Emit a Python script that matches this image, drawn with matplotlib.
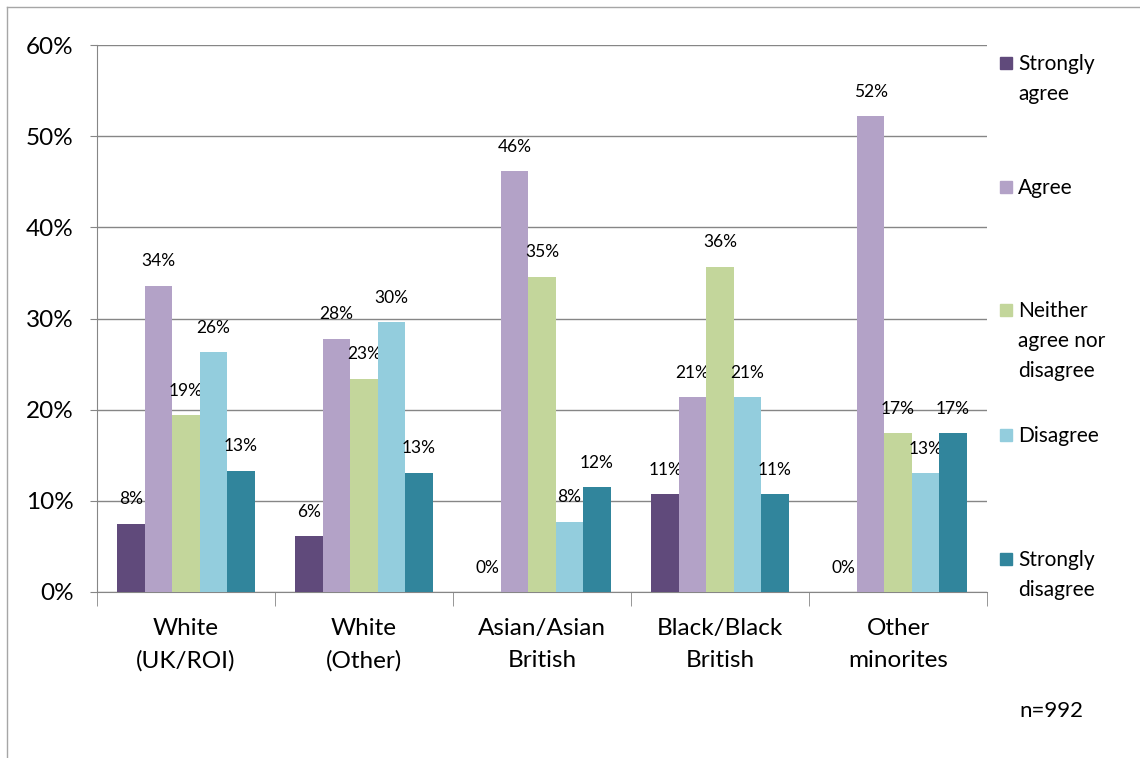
import matplotlib
matplotlib.use("Agg")
import matplotlib.pyplot as plt
import numpy as np
from matplotlib.patches import Rectangle
from matplotlib.lines import Line2D

categories = ["White\n(UK/ROI)", "White\n(Other)", "Asian/Asian\nBritish", "Black/Black\nBritish", "Other\nminorites"]
series_names = ["Strongly\nagree", "Agree", "Neither\nagree nor\ndisagree", "Disagree", "Strongly\ndisagree"]
strongly_agree = [7.5, 6.1, 0.0, 10.7, 0.0]
agree = [33.6, 27.8, 46.2, 21.4, 52.2]
neither = [19.4, 23.4, 34.6, 35.7, 17.4]
disagree = [26.3, 29.6, 7.7, 21.4, 13.0]
strongly_disagree = [13.3, 13.1, 11.5, 10.7, 17.4]
colors = ["#604A7B", "#B3A2C7", "#C3D69B", "#93CDDD", "#31859C"]
yticks = [0, 10, 20, 30, 40, 50, 60]
note = "n=992"

plt.rcParams['font.family'] = ['Lato', 'DejaVu Sans']

fig = plt.figure(figsize=(11.4, 7.58), dpi=100)
ax = fig.add_axes([97/1140, 1-592/758, (987-97)/1140, (592-45)/758])

series = [strongly_agree, agree, neither, disagree, strongly_disagree]
x = np.arange(len(categories))
bw = 0.154
for i, (vals, c) in enumerate(zip(series, colors)):
    pos = x + (i - 2) * bw
    ax.bar(pos, vals, width=bw, color=c, zorder=3)
    for p, v in zip(pos, vals):
        ax.annotate(f"{v:.0f}%", (p, v), xytext=(0, 17.5), textcoords="offset points",
                    ha="center", va="center", fontsize=12.5, color="#000000")

ax.set_xlim(-0.5, len(categories) - 0.5)
ax.set_ylim(0, 60)
ax.set_yticks(yticks)
ax.set_yticklabels([f"{t}%" for t in yticks], fontsize=17.5)
ax.yaxis.grid(True, color="#868686", linewidth=1, zorder=0)
ax.set_axisbelow(True)
for s in ["top", "right"]:
    ax.spines[s].set_visible(False)
ax.spines["left"].set_color("#868686")
ax.spines["bottom"].set_color("#868686")
ax.tick_params(axis="y", length=5, color="#868686", pad=12)
ax.set_xticks(x)
ax.set_xticklabels(categories, fontsize=17.5, linespacing=1.62)
ax.tick_params(axis="x", length=0, pad=19)
ax.set_xticks(np.arange(-0.5, len(categories) + 0.5, 1), minor=True)
ax.tick_params(axis="x", which="minor", length=10, color="#868686")

# legend
legend_y = [63, 187, 310, 435, 559]
for name, c, ly in zip(series_names, colors, legend_y):
    fig.patches.append(Rectangle((1000/1140, 1-(ly+6)/758), 12/1140, 12/758,
                                 transform=fig.transFigure, color=c))
    fig.text(1018/1140, 1-(ly-9)/758, name, fontsize=15, va="top", ha="left",
             linespacing=1.62, transform=fig.transFigure)
fig.text(1051/1140, 1-711/758, note, fontsize=16, ha="center", va="center")

# chart border
fig.add_artist(Line2D([7/1140, 1], [1-7/758, 1-7/758], color="#A6A6A6", lw=1, transform=fig.transFigure))
fig.add_artist(Line2D([7/1140, 7/1140], [1-7/758, 0], color="#A6A6A6", lw=1, transform=fig.transFigure))

fig.savefig("out.png", dpi=100)
